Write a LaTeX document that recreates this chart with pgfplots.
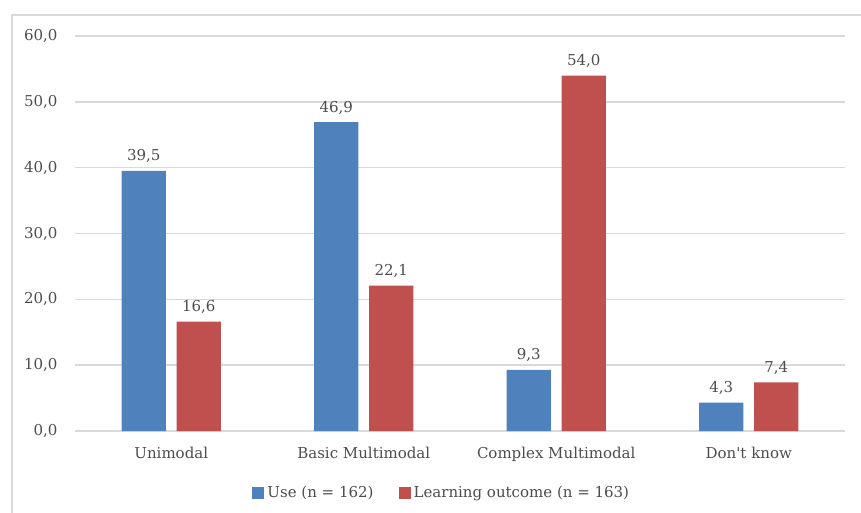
\documentclass[border=0pt]{standalone}
\usepackage{fontspec}
\setmainfont{DejaVu Serif}
\usepackage{pgfplots}
\pgfplotsset{compat=1.18}
\definecolor{useblue}{HTML}{4F81BD}
\definecolor{outred}{HTML}{C0504D}
\definecolor{gridgray}{HTML}{D9D9D9}
\definecolor{textgray}{HTML}{4D4D4D}

\begin{document}
\begin{tikzpicture}[x=1pt,y=1pt]
\path[use as bounding box] (0,0) rectangle (861,-513);
% chart frame (only top and left edges fall inside the page)
\draw[gridgray, line width=2.2pt] (12,-540) -- (12,-15) -- (900,-15);
\begin{axis}[
  at={(75pt,-431pt)}, anchor=south west,
  scale only axis, width=770pt, height=395pt,
  xmin=-0.5, xmax=3.5, ymin=0, ymax=60,
  ytick={0,10,...,60},
  xtick={0,1,2,3},
  xticklabels={Unimodal, Basic Multimodal, Complex Multimodal, Don\textquotesingle t know},
  axis line style={draw=none},
  major tick length=0pt,
  ymajorgrids,
  grid style={gridgray, line width=1.5pt},
  font=\fontsize{15}{18}\selectfont,
  tick label style={text=textgray},
  /pgf/number format/assume math mode=true,
  /pgf/number format/.cd, fixed, fixed zerofill, precision=1, use comma,
  /pgfplots/.cd,
  yticklabel style={xshift=-14pt},
  xticklabel style={yshift=-13pt},
  ybar, bar width=0.229,
  nodes near coords,
  every node near coord/.append style={text=textgray, anchor=south, inner sep=0pt, yshift=8pt},
  legend style={at={(0.477,-0.157)}, anchor=center, draw=none, legend columns=2,
    text=textgray, font=\fontsize{15}{18}\selectfont,
    nodes={inner sep=3pt},
    /tikz/every even column/.append style={column sep=22pt}},
  legend image code/.code={\fill[#1] (0pt,-6pt) rectangle (12pt,6pt);},
]
\addplot[fill=useblue, draw=none, bar shift=-0.143] coordinates {(0,39.5) (1,46.9) (2,9.3) (3,4.3)};
\addplot[fill=outred, draw=none, bar shift=0.143] coordinates {(0,16.6) (1,22.1) (2,54.0) (3,7.4)};
\legend{Use (n = 162), Learning outcome (n = 163)}
\end{axis}
\end{tikzpicture}
\end{document}
